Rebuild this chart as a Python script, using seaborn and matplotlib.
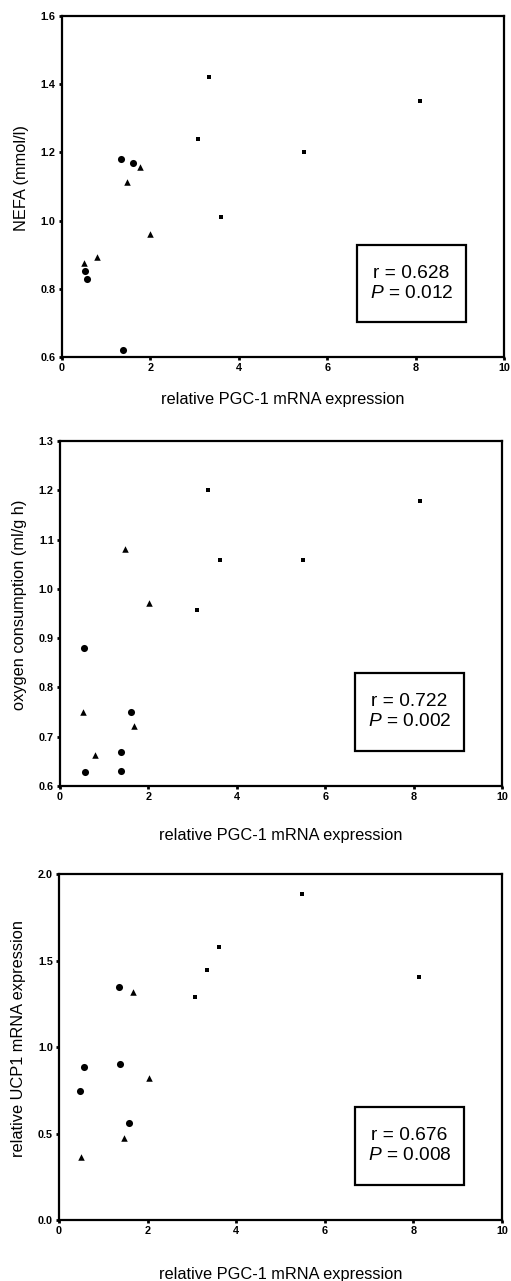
import seaborn as sns
import matplotlib.pyplot as plt
import matplotlib.patches as mpatches
import pandas as pd

# PGC-1 expression (x) and the three outcome measures, by group
circ_x1 = [0.53, 0.57, 1.34, 1.38, 1.60]
circ_nefa = [0.853, 0.828, 1.18, 0.62, 1.17]
tri_x1 = [0.49, 0.79, 1.46, 1.77, 2.00]
tri_nefa = [0.875, 0.894, 1.114, 1.158, 0.96]
sq_x1 = [3.07, 3.33, 3.59, 5.48, 8.11]
sq_nefa = [1.24, 1.42, 1.01, 1.20, 1.35]

circ_x2 = [0.55, 0.57, 1.38, 1.39, 1.60]
circ_o2 = [0.881, 0.628, 0.669, 0.631, 0.751]
tri_x2 = [0.52, 0.80, 1.48, 1.68, 2.02]
tri_o2 = [0.751, 0.662, 1.081, 0.722, 0.971]
sq_x2 = [3.09, 3.35, 3.62, 5.49, 8.14]
sq_o2 = [0.958, 1.201, 1.059, 1.059, 1.179]

circ_x3 = [0.47, 0.56, 1.36, 1.38, 1.59]
circ_ucp = [0.748, 0.883, 1.35, 0.901, 0.563]
tri_x3 = [0.50, 1.46, 1.68, 2.02]
tri_ucp = [0.363, 0.474, 1.317, 0.824]
sq_x3 = [3.08, 3.34, 3.61, 5.49, 8.12]
sq_ucp = [1.29, 1.446, 1.578, 1.884, 1.404]

xlabel = "relative PGC-1 mRNA expression"
ylabels = ["NEFA (mmol/l)", "oxygen consumption (ml/g h)", "relative UCP1 mRNA expression"]
stats = [("0.628", "0.012"), ("0.722", "0.002"), ("0.676", "0.008")]
ylims = [(0.6, 1.6), (0.6, 1.3), (0.0, 2.0)]
yticks = [[0.6, 0.8, 1.0, 1.2, 1.4, 1.6],
          [0.6, 0.7, 0.8, 0.9, 1.0, 1.1, 1.2, 1.3],
          [0.0, 0.5, 1.0, 1.5, 2.0]]

panels = [
    [(circ_x1, circ_nefa), (tri_x1, tri_nefa), (sq_x1, sq_nefa)],
    [(circ_x2, circ_o2), (tri_x2, tri_o2), (sq_x2, sq_o2)],
    [(circ_x3, circ_ucp), (tri_x3, tri_ucp), (sq_x3, sq_ucp)],
]
marks = [("o", 26), ("^", 22), ("s", 12)]

sns.set_style("ticks")
plt.rcParams['font.family'] = ['Liberation Sans', 'DejaVu Sans']
plt.rcParams['mathtext.fontset'] = 'custom'
plt.rcParams['mathtext.rm'] = 'Liberation Sans'
plt.rcParams['mathtext.it'] = 'Liberation Sans:italic'
for key in ['text.color', 'axes.labelcolor', 'xtick.color', 'ytick.color', 'axes.edgecolor']:
    plt.rcParams[key] = 'black'

fig = plt.figure(figsize=(5.11, 12.81), dpi=100)
rects = [[0.1213, 0.7213, 0.865, 0.2662],
         [0.1174, 0.3864, 0.865, 0.2693],
         [0.1155, 0.0476, 0.867, 0.2700]]
xlab_y = [-0.103, -0.122, -0.136]

for i in range(3):
    ax = fig.add_axes(rects[i])
    for (xs, ys), (m, s) in zip(panels[i], marks):
        df = pd.DataFrame({"x": xs, "y": ys})
        sns.scatterplot(data=df, x="x", y="y", marker=m, s=s, color="black",
                        edgecolor="black", linewidth=0, ax=ax)
    ax.set_xlim(0, 10)
    ax.set_ylim(*ylims[i])
    ax.set_xticks([0, 2, 4, 6, 8, 10])
    ax.set_yticks(yticks[i])
    ax.set_yticklabels([f"{v:.1f}" for v in yticks[i]])
    ax.tick_params(length=2.5, width=2, labelsize=7.8, pad=2, direction="out")
    for lab in ax.get_xticklabels() + ax.get_yticklabels():
        lab.set_fontweight("bold")
    for sp in ax.spines.values():
        sp.set_visible(True)
        sp.set_linewidth(1.6)
        sp.set_color("black")
    ax.set_xlabel(xlabel, fontsize=11.8)
    ax.set_ylabel(ylabels[i], fontsize=11.8)
    ax.xaxis.set_label_coords(0.5, xlab_y[i])
    ax.yaxis.set_label_coords(-0.075, 0.526)

    ax.add_patch(mpatches.Rectangle((0.668, 0.102), 0.247, 0.226, transform=ax.transAxes,
                                    fill=False, lw=1.6, edgecolor="black", zorder=5))
    r, p = stats[i]
    ax.text(0.791, 0.215, f"r = {r}\n$P$ = {p}", transform=ax.transAxes,
            ha="center", va="center", fontsize=13.8, linespacing=1.22)

fig.savefig("out.png", dpi=100)
